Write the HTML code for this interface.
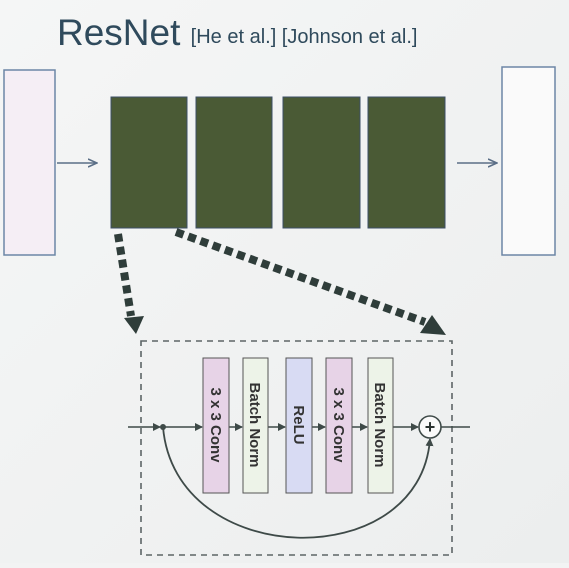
<!DOCTYPE html>
<html><head><meta charset="utf-8"><style>
html,body{margin:0;padding:0}
body{width:569px;height:563px;overflow:hidden;background:#f2f3f3;font-family:"Liberation Sans",sans-serif}
</style></head><body>
<svg width="569" height="563" viewBox="0 0 569 563">
<defs>
<marker id="ah" markerWidth="10" markerHeight="10" refX="9" refY="5" orient="auto" markerUnits="userSpaceOnUse"><path d="M0,1 L9,5 L0,9" fill="none" stroke="#5a6e86" stroke-width="1.6"/></marker>
<marker id="sa" markerWidth="8" markerHeight="8" refX="7" refY="4" orient="auto" markerUnits="userSpaceOnUse"><path d="M0,0 L8,4 L0,8z" fill="#3e4a48"/></marker>
<linearGradient id="bg" x1="0" y1="0" x2="1" y2="1"><stop offset="0" stop-color="#f5f6f6"/><stop offset="1" stop-color="#eceeee"/></linearGradient>
</defs>
<rect width="569" height="563" fill="url(#bg)"/>
<text x="57" y="45" font-size="37" fill="#2f4a5c">ResNet <tspan font-size="20" dy="-2">[He et al.] [Johnson et al.]</tspan></text>
<rect x="4" y="70" width="51" height="185" fill="#f5eef5" stroke="#6c86a6" stroke-width="1.5"/>
<rect x="502" y="67" width="53" height="188" fill="#fafafa" stroke="#6c86a6" stroke-width="1.5"/>
<line x1="57" y1="163" x2="97" y2="163" stroke="#5a6e86" stroke-width="1.6" marker-end="url(#ah)"/>
<line x1="457" y1="163" x2="497" y2="163" stroke="#5a6e86" stroke-width="1.6" marker-end="url(#ah)"/>
<rect x="111" y="97" width="76" height="131" fill="#4a5a35" stroke="#3c4f66"/>
<rect x="196" y="97" width="76" height="131" fill="#4a5a35" stroke="#3c4f66"/>
<rect x="283" y="97" width="77" height="131" fill="#4a5a35" stroke="#3c4f66"/>
<rect x="368" y="97" width="77" height="131" fill="#4a5a35" stroke="#3c4f66"/>
<line x1="118" y1="234" x2="131" y2="316" stroke="#2f3d3a" stroke-width="8" stroke-dasharray="8,5"/>
<path d="M124,318 L144,316 L136,334z" fill="#2f3d3a"/>
<line x1="176" y1="232" x2="425" y2="322" stroke="#2f3d3a" stroke-width="8" stroke-dasharray="8,5"/>
<path d="M420,333 L446,335 L432,315z" fill="#2f3d3a"/>
<rect x="141" y="341" width="311" height="214" fill="none" stroke="#5d6566" stroke-width="1.6" stroke-dasharray="6,5"/>
<line x1="128" y1="427" x2="160" y2="427" stroke="#3e4a48" stroke-width="1.5" marker-end="url(#sa)"/>
<circle cx="163" cy="427" r="3" fill="#3e4a48"/>
<line x1="163" y1="427" x2="202" y2="427" stroke="#3e4a48" stroke-width="1.5" marker-end="url(#sa)"/>
<line x1="229" y1="427" x2="242" y2="427" stroke="#3e4a48" stroke-width="1.5" marker-end="url(#sa)"/>
<line x1="268" y1="427" x2="285" y2="427" stroke="#3e4a48" stroke-width="1.5" marker-end="url(#sa)"/>
<line x1="312" y1="427" x2="325" y2="427" stroke="#3e4a48" stroke-width="1.5" marker-end="url(#sa)"/>
<line x1="352" y1="427" x2="367" y2="427" stroke="#3e4a48" stroke-width="1.5" marker-end="url(#sa)"/>
<line x1="393" y1="427" x2="418" y2="427" stroke="#3e4a48" stroke-width="1.5" marker-end="url(#sa)"/>
<line x1="441" y1="427" x2="470" y2="427" stroke="#3e4a48" stroke-width="1.5"/>
<path d="M163,427 C175,570 420,575 430,439" fill="none" stroke="#3e4a48" stroke-width="1.8" marker-end="url(#sa)"/>
<circle cx="430" cy="427" r="11" fill="#fafafa" stroke="#3e4a48" stroke-width="1.6"/>
<text x="430" y="433" font-size="18" font-weight="bold" text-anchor="middle" fill="#2a3230">+</text>
<g font-size="15" font-weight="bold" fill="#333" text-anchor="middle">
<rect x="203" y="358" width="26" height="135" fill="#e7d3e7" stroke="#555"/>
<text transform="translate(216,425) rotate(90)" dy="5">3 x 3 Conv</text>
<rect x="243" y="358" width="25" height="135" fill="#edf3e8" stroke="#555"/>
<text transform="translate(255,425) rotate(90)" dy="5">Batch Norm</text>
<rect x="286" y="358" width="26" height="135" fill="#d8dbf3" stroke="#555"/>
<text transform="translate(299,425) rotate(90)" dy="5">ReLU</text>
<rect x="326" y="358" width="26" height="135" fill="#e7d3e7" stroke="#555"/>
<text transform="translate(339,425) rotate(90)" dy="5">3 x 3 Conv</text>
<rect x="368" y="358" width="25" height="135" fill="#edf3e8" stroke="#555"/>
<text transform="translate(380,425) rotate(90)" dy="5">Batch Norm</text>
</g>
</svg>
</body></html>
